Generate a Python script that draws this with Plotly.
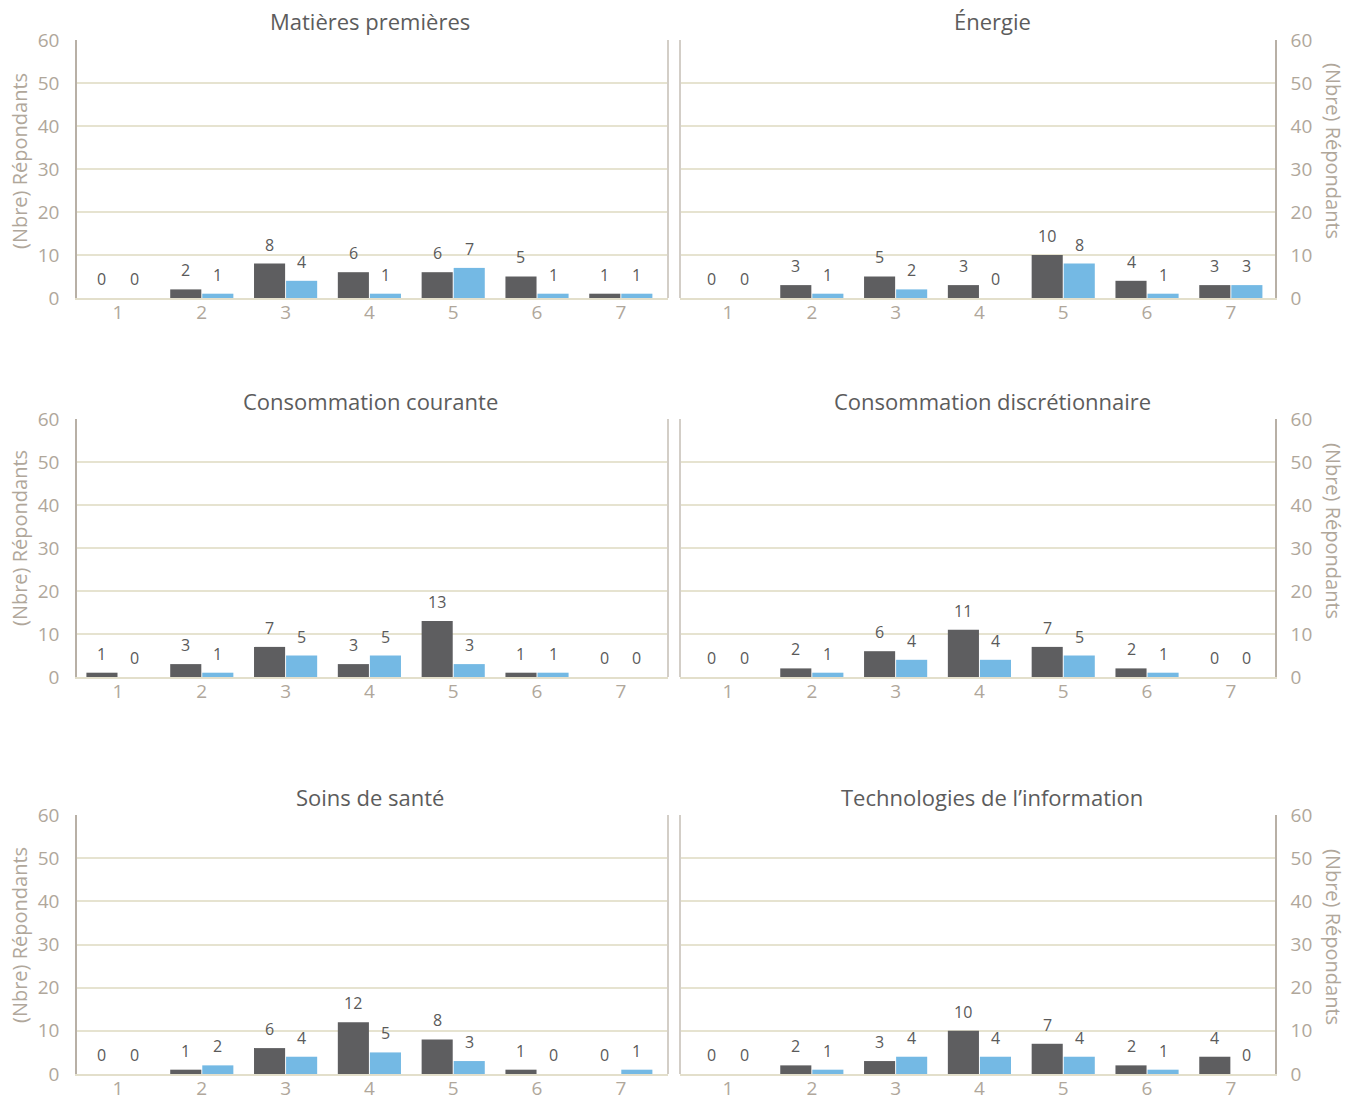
import plotly.graph_objects as go

W, H = 1357, 1100
OFF = 8  # page body margin offset of the plot div

categories = [1, 2, 3, 4, 5, 6, 7]

titles = [
    "Matières premières",
    "Énergie",
    "Consommation courante",
    "Consommation discrétionnaire",
    "Soins de santé",
    "Technologies de l’information",
]

dark_values = [
    [0, 2, 8, 6, 6, 5, 1],
    [0, 3, 5, 3, 10, 4, 3],
    [1, 3, 7, 3, 13, 1, 0],
    [0, 2, 6, 11, 7, 2, 0],
    [0, 1, 6, 12, 8, 1, 0],
    [0, 2, 3, 10, 7, 2, 4],
]
blue_values = [
    [0, 1, 4, 1, 7, 1, 1],
    [0, 1, 2, 0, 8, 1, 3],
    [0, 1, 5, 5, 3, 1, 0],
    [0, 1, 4, 4, 5, 1, 0],
    [0, 2, 4, 5, 3, 0, 1],
    [0, 1, 4, 4, 4, 1, 0],
]
y_ticks = [0, 10, 20, 30, 40, 50, 60]
y_title = "(Nbre) Répondants"

DARK = "#5e5e60"
BLUE = "#74b9e4"
TICK = "#b0a79b"
GRID = "#e6e3d0"
AXIS = "#b8b0a6"
SEP = "#d3cec7"
LABEL = "#5a5a5a"
FONT = "Open Sans"

BARGAP = 0.235
GROUPGAP = 0.03
half_slot = (1 - BARGAP) / 4  # centre offset of each bar in a group

# pixel layout (in screenshot pixels)
col_dom = [(77, 668), (680, 1275)]
col_range = [(0.511, 7.563), (0.427, 7.527)]
row_dom = [(40, 298), (419, 677), (815, 1074)]
title_y = [21, 401, 797]
title_x = [370, 992]
ytitle_y = [[161, 151], [538, 531], [935, 937]]
ytitle_x = [19, 1334]


def px(v):
    return (v - OFF) / W


def py(v):
    return 1 - (v - OFF) / H


fig = go.Figure()
layout = {}
shapes = []
annotations = []

for i in range(6):
    r, c = divmod(i, 2)
    n = i + 1
    xa = "x" if n == 1 else f"x{n}"
    ya = "y" if n == 1 else f"y{n}"
    for vals, color, grp, sign in ((dark_values[i], DARK, "a", -1), (blue_values[i], BLUE, "b", 1)):
        fig.add_trace(go.Bar(
            x=categories, y=vals, xaxis=xa, yaxis=ya,
            marker=dict(color=color, line=dict(width=0)),
            showlegend=False, offsetgroup=grp, hoverinfo="skip",
        ))
        for cat, v in zip(categories, vals):
            annotations.append(dict(
                text=str(v), x=cat + sign * half_slot, y=v, xref=xa, yref=ya,
                xanchor="center", yanchor="bottom", yshift=6, showarrow=False,
                font=dict(size=16, color=LABEL, family=FONT),
            ))
    x0, x1 = col_dom[c]
    y0, y1 = row_dom[r]
    xkey = "xaxis" if n == 1 else f"xaxis{n}"
    ykey = "yaxis" if n == 1 else f"yaxis{n}"
    layout[xkey] = dict(
        domain=[px(x0), px(x1)], anchor=ya, range=list(col_range[c]),
        tickmode="array", tickvals=categories, ticktext=[str(v) for v in categories],
        showgrid=False, zeroline=False, showline=True, linecolor="#e3dfcb", linewidth=1.5,
        tickfont=dict(size=19, color=TICK, family=FONT), ticks="", fixedrange=True,
        automargin=False, ticklabelstandoff=-4,
    )
    layout[ykey] = dict(
        domain=[py(y1), py(y0)], anchor=xa, range=[0, 60],
        tickmode="array", tickvals=y_ticks,
        side="left" if c == 0 else "right",
        showgrid=True, gridcolor=GRID, gridwidth=1.5, zeroline=False,
        showline=True, linecolor=AXIS, linewidth=1.5, ticks="",
        ticklabelstandoff=12 if c == 0 else 10,
        tickfont=dict(size=19, color=TICK, family=FONT), fixedrange=True,
        automargin=False,
    )
    # separator line between panels
    shapes.append(dict(
        type="line", xref=f"{xa} domain", yref=f"{ya} domain",
        x0=1 if c == 0 else 0, x1=1 if c == 0 else 0, y0=0, y1=1,
        line=dict(color=SEP, width=2),
    ))
    annotations.append(dict(
        text=titles[i], x=px(title_x[c]), y=py(title_y[r]),
        xref="paper", yref="paper", xanchor="center", yanchor="middle",
        showarrow=False, font=dict(size=22, color="#5c5c5c", family=FONT),
    ))
    annotations.append(dict(
        text=y_title, x=px(ytitle_x[c]), y=py(ytitle_y[r][c]),
        xref="paper", yref="paper", xanchor="center", yanchor="middle",
        textangle=-90 if c == 0 else 90,
        showarrow=False, font=dict(size=20, color=TICK, family=FONT),
    ))

fig.update_layout(
    width=W, height=H,
    margin=dict(l=0, r=0, t=0, b=0, autoexpand=False),
    paper_bgcolor="white", plot_bgcolor="white",
    barmode="group", bargap=BARGAP, bargroupgap=GROUPGAP,
    font=dict(family=FONT),
    shapes=shapes, annotations=annotations,
    **layout,
)

fig.write_html("out.html")
